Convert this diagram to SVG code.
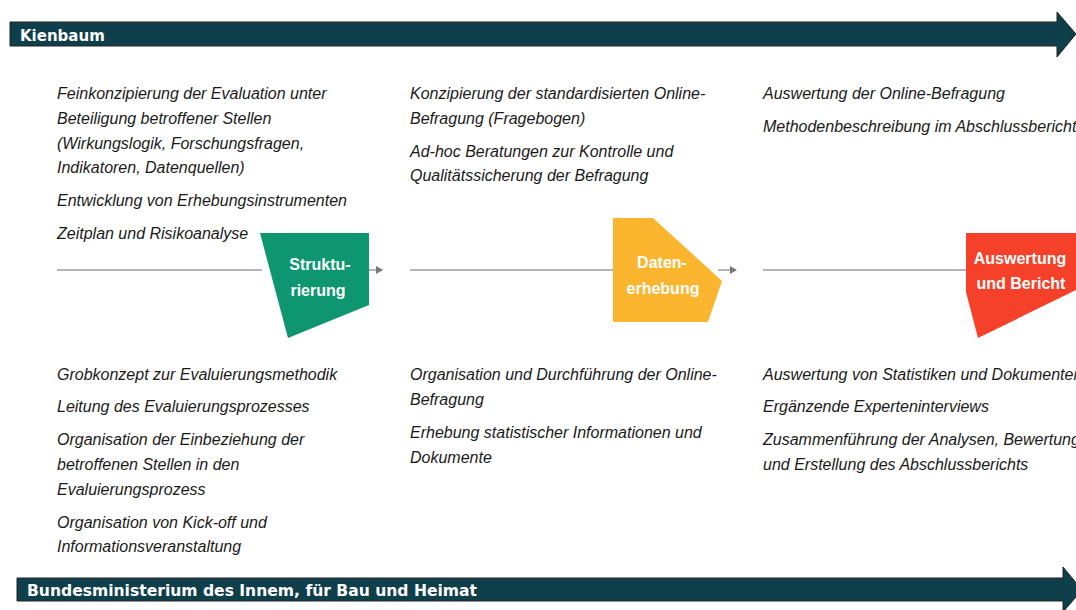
<svg xmlns="http://www.w3.org/2000/svg" width="1076" height="610" viewBox="0 0 1076 610">
<defs>
<style>
.t{font-family:"Liberation Sans",Arial,sans-serif;font-style:italic;font-size:16px;fill:#1a1a1a}
.band{fill:#0f3f4b;stroke:#222;stroke-width:1}
.bt{font-family:"DejaVu Sans",Verdana,sans-serif;font-weight:bold;font-size:15px;fill:#fff}
.lbl{font-family:"Liberation Sans",Arial,sans-serif;font-weight:bold;font-size:16px;fill:#fff;text-anchor:middle}
.ln{stroke:#b5b5b5;stroke-width:2;fill:none}
</style>
<marker id="ah" markerWidth="8" markerHeight="8" refX="6" refY="4" orient="auto" markerUnits="userSpaceOnUse">
<path d="M0,0 L7,4 L0,8 Z" fill="#777"/>
</marker>
</defs>
<rect width="1076" height="610" fill="#fff"/>

<g id="band-top">
<path class="band" d="M10,22 H1057 V12 L1076,34 L1057,57 V46 H10 Z"/>
<text class="bt" x="20" y="41">Kienbaum</text>
</g>
<g id="band-bottom">
<path class="band" d="M17,578 H1063 V567 L1082,590 L1063,612 V601 H17 Z"/>
<text class="bt" x="27" y="596" textLength="450" lengthAdjust="spacingAndGlyphs">Bundesministerium des Innem, für Bau und Heimat</text>
</g>

<g id="connectors">
<line class="ln" x1="57" y1="270" x2="262" y2="270"/>
<line class="ln" x1="368" y1="270" x2="382" y2="270" marker-end="url(#ah)"/>
<line class="ln" x1="410" y1="270" x2="614" y2="270"/>
<line class="ln" x1="718" y1="270" x2="736" y2="270" marker-end="url(#ah)"/>
<line class="ln" x1="763" y1="270" x2="967" y2="270"/>
</g>

<g id="node-strukturierung">
<path d="M260,233 H369 V305 L288,338 Z" fill="#0e9670"/>
<text class="lbl" x="320" y="270">Struktu-</text>
<text class="lbl" x="318" y="296">rierung</text>
</g>
<g id="node-datenerhebung">
<path d="M613,218 H653 L722,281 L708,322 H613 Z" fill="#fbb52e"/>
<text class="lbl" x="662" y="268">Daten-</text>
<text class="lbl" x="663" y="294">erhebung</text>
</g>
<g id="node-auswertung">
<path d="M966,233 H1080 V288 L978,338 L966,292 Z" fill="#f5402a"/>
<text class="lbl" x="1020" y="264">Auswertung</text>
<text class="lbl" x="1021" y="289">und Bericht</text>
</g>

<g id="text-col1-top">
<text class="t" x="57" y="99">Feinkonzipierung der Evaluation unter</text>
<text class="t" x="57" y="124">Beteiligung betroffener  Stellen</text>
<text class="t" x="57" y="149">(Wirkungslogik, Forschungsfragen,</text>
<text class="t" x="57" y="173">Indikatoren, Datenquellen)</text>
<text class="t" x="57" y="206">Entwicklung von Erhebungsinstrumenten</text>
<text class="t" x="57" y="239">Zeitplan und Risikoanalyse</text>
</g>
<g id="text-col2-top">
<text class="t" x="410" y="99">Konzipierung der standardisierten Online-</text>
<text class="t" x="410" y="124">Befragung (Fragebogen)</text>
<text class="t" x="410" y="157">Ad-hoc Beratungen zur Kontrolle und</text>
<text class="t" x="410" y="181">Qualitätssicherung der Befragung</text>
</g>
<g id="text-col3-top">
<text class="t" x="763" y="99">Auswertung der Online-Befragung</text>
<text class="t" x="763" y="132">Methodenbeschreibung im Abschlussbericht</text>
</g>
<g id="text-col1-bottom">
<text class="t" x="57" y="380">Grobkonzept zur Evaluierungsmethodik</text>
<text class="t" x="57" y="412">Leitung des Evaluierungsprozesses</text>
<text class="t" x="57" y="445">Organisation der Einbeziehung der</text>
<text class="t" x="57" y="470">betroffenen Stellen in den</text>
<text class="t" x="57" y="495">Evaluierungsprozess</text>
<text class="t" x="57" y="528">Organisation von Kick-off und</text>
<text class="t" x="57" y="552">Informationsveranstaltung</text>
</g>
<g id="text-col2-bottom">
<text class="t" x="410" y="380">Organisation und Durchführung der Online-</text>
<text class="t" x="410" y="405">Befragung</text>
<text class="t" x="410" y="438">Erhebung statistischer Informationen und</text>
<text class="t" x="410" y="463">Dokumente</text>
</g>
<g id="text-col3-bottom">
<text class="t" x="763" y="380">Auswertung von Statistiken und Dokumenten</text>
<text class="t" x="763" y="412">Ergänzende Experteninterviews</text>
<text class="t" x="763" y="445">Zusammenführung der Analysen, Bewertung</text>
<text class="t" x="763" y="470">und Erstellung des Abschlussberichts</text>
</g>
</svg>
